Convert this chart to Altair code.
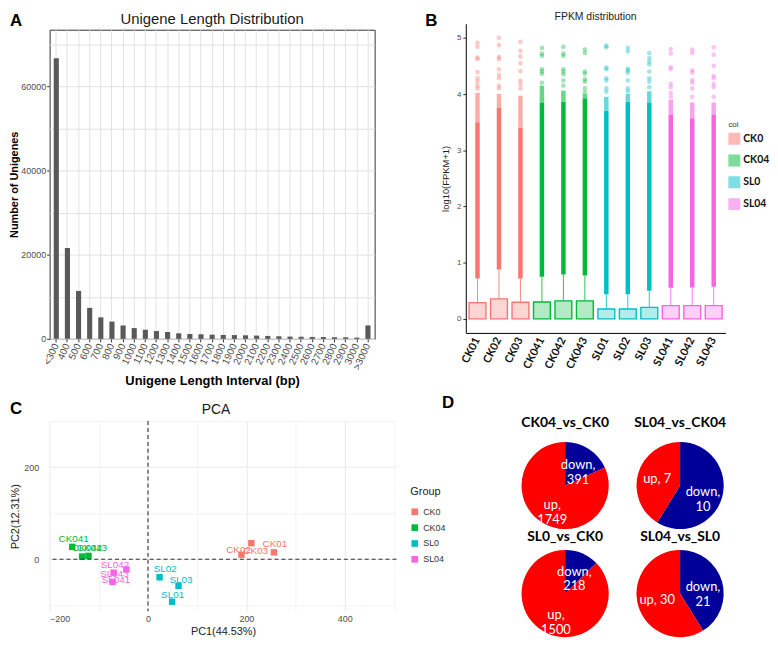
import altair as alt
import pandas as pd

FONT = "Liberation Sans"
CAL = "Lato"

panel_letters = ["A", "B", "C", "D"]
panel_titles = ["Unigene Length Distribution", "FPKM distribution", "PCA"]

# ---------------- Panel A: unigene length distribution ----------------
len_bins = ["<300", "400", "500", "600", "700", "800", "900", "1000", "1100", "1200",
            "1300", "1400", "1500", "1600", "1700", "1800", "1900", "2000", "2100", "2200",
            "2300", "2400", "2500", "2600", "2700", "2800", "2900", "3000", ">3000"]
len_counts = [66700, 21600, 11400, 7370, 5120, 4110, 3180, 2560, 2170, 1860,
              1630, 1320, 1160, 1090, 1000, 930, 900, 850, 780, 700,
              620, 540, 520, 460, 440, 390, 370, 300, 3200]
a_ticks = [0, 10000, 20000, 30000, 40000, 50000, 60000, 70000]

# ---------------- Panel B: FPKM distribution ----------------
samples = ["CK01", "CK02", "CK03", "CK041", "CK042", "CK043",
           "SL01", "SL02", "SL03", "SL041", "SL042", "SL043"]
sample_group = ["CK0", "CK0", "CK0", "CK04", "CK04", "CK04",
                "SL0", "SL0", "SL0", "SL04", "SL04", "SL04"]
box_low = [0, 0, 0, 0, 0, 0, 0, 0, 0, 0, 0, 0]
box_q3 = [0.29, 0.355, 0.295, 0.30, 0.32, 0.32, 0.175, 0.175, 0.205, 0.235, 0.235, 0.235]
whisker_top = [0.72, 0.88, 0.72, 0.75, 0.79, 0.77, 0.44, 0.44, 0.50, 0.555, 0.56, 0.57]
dense_top = [3.50, 3.75, 3.40, 3.85, 3.86, 3.92, 3.70, 3.86, 3.85, 3.63, 3.57, 3.63]
scatter_top = [4.02, 4.00, 3.97, 4.15, 4.06, 4.00, 3.95, 4.00, 4.05, 3.90, 3.85, 3.85]
outliers = {
    "CK01": [4.91, 4.84, 4.65, 4.62, 4.39, 4.28, 4.22, 4.15, 4.10],
    "CK02": [5.00, 4.87, 4.66, 4.62, 4.44, 4.34, 4.28, 4.15, 4.10],
    "CK03": [4.93, 4.77, 4.67, 4.55, 4.41, 4.24, 4.18, 4.10],
    "CK041": [4.82, 4.72, 4.68, 4.44, 4.40, 4.36, 4.20],
    "CK042": [4.84, 4.72, 4.68, 4.44, 4.40, 4.35, 4.24, 4.15],
    "CK043": [4.79, 4.73, 4.40, 4.36, 4.26, 4.22, 4.10, 4.03],
    "SL01": [4.86, 4.83, 4.47, 4.44, 4.28, 4.24, 4.10, 4.04],
    "SL02": [4.82, 4.76, 4.45, 4.42, 4.38, 4.24, 4.10, 4.05],
    "SL03": [4.73, 4.64, 4.58, 4.53, 4.40, 4.28, 4.22, 4.12],
    "SL041": [4.80, 4.72, 4.48, 4.44, 4.18, 4.12, 4.02, 3.95],
    "SL042": [4.79, 4.73, 4.42, 4.38, 4.25, 4.20, 4.10, 3.95],
    "SL043": [4.83, 4.70, 4.50, 4.32, 4.28, 4.18, 4.12, 3.95],
}
b_ticks = [0, 1, 2, 3, 4, 5]

group_names = ["CK0", "CK04", "SL0", "SL04"]
group_colors = ["#F8766D", "#00BA38", "#00BFC4", "#F564E3"]

# ---------------- Panel C: PCA ----------------
pca_samples = ["CK01", "CK02", "CK03", "CK041", "CK042", "CK043",
               "SL01", "SL02", "SL03", "SL041", "SL042", "SL043"]
pca_group = ["CK0", "CK0", "CK0", "CK04", "CK04", "CK04",
             "SL0", "SL0", "SL0", "SL04", "SL04", "SL04"]
pc1 = [256, 190, 210, -154, -134, -121, 49, 23.5, 62, -72, -44, -70]
pc2 = [15, 10, 35, 27, 6, 7.5, -92, -39, -57.5, -49, -22, -29]
label_x = [258, 184, 219, -151, -124, -114, 50, 35, 67, -65, -67, -68]
label_y = [33, 20, 18, 45, 24, 24, -78, -22, -45, -45, -12, -33]
c_xticks = [-200, -100, 0, 100, 200, 300, 400, 500]
c_yticks = [-100, 0, 100, 200, 300]
zero_lines = [0]

# ---------------- Panel D: DEG pies ----------------
comps = ["CK04_vs_CK0", "SL04_vs_CK04", "SL0_vs_CK0", "SL04_vs_SL0"]
comp_col = [0, 1, 0, 1]
comp_row = [0, 0, 1, 1]
down_counts = [391, 10, 218, 21]
up_counts = [1749, 7, 1500, 30]
down_sep = ["\n", "\n", "\n", "\n"]
up_sep = ["\n", " ", "\n", " "]

# =====================================================================
GRID = "#E2E2E2"


def annot(text, size, weight, x, y, align="left", baseline="top", font=FONT, color="black"):
    return alt.Chart(pd.DataFrame({"t": [text]})).mark_text(
        font=font, fontSize=size, fontWeight=weight, align=align, baseline=baseline, color=color
    ).encode(x=alt.value(x), y=alt.value(y), text="t:N")


# ---- A ----
dfA = pd.DataFrame({"bin": len_bins, "count": len_counts})
barsA = alt.Chart(dfA).mark_bar(color="#595959").encode(
    x=alt.X("bin:N", sort=len_bins,
            scale=alt.Scale(paddingInner=0.54, paddingOuter=0.37),
            axis=alt.Axis(title="Unigene Length Interval (bp)", labelAngle=-65, bandPosition=0.5,
                          grid=True, gridColor=GRID, domain=False, tickColor="#333333", tickSize=3,
                          labelFontSize=10, labelColor="#4D4D4D", labelPadding=2,
                          titleFontSize=13, titleFontWeight="bold", titleColor="#000000", titlePadding=3)),
    y=alt.Y("count:Q", scale=alt.Scale(domain=[0, 73500], nice=False),
            axis=alt.Axis(title="Number of Unigenes", values=a_ticks, format="d",
                          labelExpr="datum.value % 20000 == 0 ? datum.label : ''",
                          grid=True, gridColor=GRID, domain=False, tickSize=3,
                          tickColor={"condition": {"test": "datum.value % 20000 != 0", "value": "transparent"},
                                     "value": "#333333"},
                          labelFontSize=9, labelColor="#4D4D4D", labelPadding=1,
                          titleFontSize=11, titleFontWeight="bold", titleColor="#000000", titlePadding=1)),
)
A = alt.layer(
    barsA,
    annot(panel_letters[0], 17, "bold", -40, -17),
    annot(panel_titles[0], 15, "normal", 164, -11, align="center", baseline="middle", color="#1A1A1A"),
).properties(width=328, height=312, view=alt.ViewBackground(stroke="#333333", strokeWidth=1))

# ---- B ----
dfB = pd.DataFrame({"sample": samples, "group": sample_group, "low": box_low, "q3": box_q3,
                    "wt": whisker_top, "d1": dense_top, "d2": scatter_top})
rowsO = [(s, g, v) for s, g in zip(samples, sample_group) for v in outliers[s]]
dfO = pd.DataFrame(rowsO, columns=["sample", "group", "val"])
colScale = alt.Scale(domain=group_names, range=group_colors)
xB = alt.X("sample:N", sort=samples, scale=alt.Scale(paddingInner=0, paddingOuter=0.045),
           axis=alt.Axis(title=None, labelAngle=-63, labelFont=CAL, labelFontWeight="bold",
                         labelFontSize=11, labelColor="#111111", ticks=False, domainColor="#000000",
                         labelPadding=5))
yBs = alt.Scale(domain=[-0.25, 5.25], range=[306, -6], nice=False, zero=False)
yBaxis = alt.Axis(title="log10(FPKM+1)", values=b_ticks, grid=False, domainColor="#000000",
                  tickColor="#333333", tickSize=3, labelFontSize=8, labelColor="#4D4D4D",
                  titleFontSize=9.5, titleFontWeight="normal", titleColor="#222222", titlePadding=6)
legB = alt.Legend(title="col", orient="none", legendX=265, legendY=92, symbolType="square",
                  symbolSize=110, symbolStrokeWidth=1.5, symbolOpacity=0.5, labelFont=CAL,
                  labelFontWeight="bold", labelFontSize=10.5, labelColor="#111111", labelOffset=3,
                  titleFontSize=8, titleFontWeight="normal", titleColor="#333333",
                  rowPadding=4, titlePadding=4)
box = alt.Chart(dfB).mark_bar(size=17, fillOpacity=0.3, strokeWidth=1.4).encode(
    x=xB, y=alt.Y("low:Q", scale=yBs, axis=yBaxis), y2="q3:Q",
    fill=alt.Fill("group:N", scale=colScale, legend=legB),
    stroke=alt.Stroke("group:N", scale=colScale, legend=legB),
)
whisk = alt.Chart(dfB).mark_rule(strokeWidth=1, opacity=0.85).encode(
    x=xB, y=alt.Y("q3:Q", scale=yBs, axis=yBaxis), y2="wt:Q",
    color=alt.Color("group:N", scale=colScale, legend=None))
dense = alt.Chart(dfB).mark_rule(strokeWidth=4.5).encode(
    x=xB, y=alt.Y("wt:Q", scale=yBs, axis=yBaxis), y2="d1:Q",
    color=alt.Color("group:N", scale=colScale, legend=None))
semi = alt.Chart(dfB).mark_rule(strokeWidth=4.5, opacity=0.6).encode(
    x=xB, y=alt.Y("d1:Q", scale=yBs, axis=yBaxis), y2="d2:Q",
    color=alt.Color("group:N", scale=colScale, legend=None))
outl = alt.Chart(dfO).mark_circle(size=22, opacity=0.38).encode(
    x=xB, y=alt.Y("val:Q", scale=yBs, axis=yBaxis),
    color=alt.Color("group:N", scale=colScale, legend=None))
B = alt.layer(
    box, whisk, dense, semi, outl,
    annot(panel_letters[1], 17, "bold", -41, -17),
    annot(panel_titles[1], 10.5, "normal", 131, -13, align="center", baseline="middle", color="#222222"),
).properties(width=262, height=306)

# ---- C ----
dfP = pd.DataFrame({"sample": pca_samples, "group": pca_group, "pc1": pc1, "pc2": pc2,
                    "lx": label_x, "ly": label_y})
xCs = alt.Scale(domain=[-200, 505], nice=False, zero=False)
yCs = alt.Scale(domain=[-113, 300], nice=False, zero=False)
gridW = {"condition": {"test": "datum.value % 200 != 0", "value": 0.6}, "value": 1.1}
xCaxis = alt.Axis(title="PC1(44.53%)", values=c_xticks,
                  labelExpr="datum.value % 200 == 0 ? datum.label : ''",
                  grid=True, gridColor="#EBEBEB", gridWidth=gridW, domain=False, ticks=False,
                  labelFontSize=9, labelColor="#4D4D4D", labelPadding=3,
                  titleFontSize=11, titleFontWeight="normal", titleColor="#222222", titlePadding=2)
yCaxis = alt.Axis(title="PC2(12.31%)", values=c_yticks,
                  labelExpr="datum.value % 200 == 0 ? datum.label : ''",
                  grid=True, gridColor="#EBEBEB", gridWidth=gridW, domain=False, ticks=False,
                  labelFontSize=9, labelColor="#4D4D4D", labelPadding=11,
                  titleFontSize=11, titleFontWeight="normal", titleColor="#222222", titlePadding=3)
legC = alt.Legend(title="Group", orient="none", legendX=364, legendY=66, symbolType="square",
                  symbolSize=45, labelFontSize=9, labelColor="#333333", titleFontSize=11,
                  titleFontWeight="normal", titleColor="#222222", rowPadding=6, titlePadding=10)
ptsC = alt.Chart(dfP).mark_square(size=42, opacity=1).encode(
    x=alt.X("pc1:Q", scale=xCs, axis=xCaxis),
    y=alt.Y("pc2:Q", scale=yCs, axis=yCaxis),
    color=alt.Color("group:N", scale=colScale, legend=legC))
labC = alt.Chart(dfP).mark_text(font=FONT, fontSize=10, baseline="middle").encode(
    x=alt.X("lx:Q", scale=xCs, axis=xCaxis), y=alt.Y("ly:Q", scale=yCs, axis=yCaxis),
    text="sample:N", color=alt.Color("group:N", scale=colScale, legend=legC))
dfZ = pd.DataFrame({"v": zero_lines})
vline = alt.Chart(dfZ).mark_rule(strokeDash=[4, 3], color="#333333", strokeWidth=1.1).encode(
    x=alt.X("v:Q", scale=xCs, axis=xCaxis))
hline = alt.Chart(dfZ).mark_rule(strokeDash=[4, 3], color="#333333", strokeWidth=1.1).encode(
    y=alt.Y("v:Q", scale=yCs, axis=yCaxis))
C = alt.layer(
    ptsC, vline, hline, labC,
    annot(panel_letters[2], 17, "bold", -40, -20),
    annot(panel_titles[2], 14, "normal", 168, -11, align="center", baseline="middle", color="#1A1A1A"),
).properties(width=350, height=192)

# ---- D ----
recs = []
for c, cc, rr, dn, up, ds, us in zip(comps, comp_col, comp_row, down_counts, up_counts, down_sep, up_sep):
    recs.append({"comp": c, "col": cc, "row": rr, "dir": "down", "n": dn, "ord": 0,
                 "label": f"down,{ds}{dn}"})
    recs.append({"comp": c, "col": cc, "row": rr, "dir": "up", "n": up, "ord": 1,
                 "label": f"up,{us}{up}"})
dfD = pd.DataFrame(recs)
xDs = alt.Scale(domain=[-0.39, 1.42], nice=False, zero=False)
yDs = alt.Scale(domain=[-0.596, 1.165], nice=False, zero=False, reverse=True)
baseD = alt.Chart(dfD).transform_joinaggregate(
    total="sum(n)", groupby=["comp"]
).transform_calculate(
    frac="datum.n / datum.total"
).transform_window(
    end="sum(frac)", sort=[alt.SortField("ord")], groupby=["comp"], frame=[None, 0]
).transform_calculate(
    start="datum.end - datum.frac", mid="datum.end - datum.frac / 2"
)
pieColors = alt.Scale(domain=["down", "up"], range=["#000099", "#FF0000"])
arcs = baseD.mark_arc(radius=44).encode(
    theta=alt.Theta("start:Q", stack=False, scale=alt.Scale(domain=[0, 1])),
    theta2="end:Q",
    x=alt.X("col:Q", scale=xDs, axis=None),
    y=alt.Y("row:Q", scale=yDs, axis=None),
    color=alt.Color("dir:N", scale=pieColors, legend=None))
labD = baseD.mark_text(radius=24, lineBreak="\n", font=CAL, fontSize=13, color="white",
                       baseline="middle", align="center").encode(
    theta=alt.Theta("mid:Q", stack=False, scale=alt.Scale(domain=[0, 1])),
    x=alt.X("col:Q", scale=xDs, axis=None),
    y=alt.Y("row:Q", scale=yDs, axis=None),
    text="label:N")
dfT = pd.DataFrame({"comp": comps, "col": comp_col, "row": comp_row})
t0 = alt.Chart(dfT).transform_filter("datum.row == 0").mark_text(
    font=CAL, fontSize=14, fontWeight="bold", color="black", dy=-63).encode(
    x=alt.X("col:Q", scale=xDs, axis=None), y=alt.Y("row:Q", scale=yDs, axis=None), text="comp:N")
t1 = alt.Chart(dfT).transform_filter("datum.row == 1").mark_text(
    font=CAL, fontSize=14, fontWeight="bold", color="black", dy=-57).encode(
    x=alt.X("col:Q", scale=xDs, axis=None), y=alt.Y("row:Q", scale=yDs, axis=None), text="comp:N")
D = alt.layer(arcs, labD, t0, t1, annot(panel_letters[3], 17, "bold", -79, -26)).properties(
    width=210, height=192)

row1 = alt.hconcat(A, B, spacing=50).resolve_scale(
    color="independent", fill="independent", stroke="independent")
row2 = alt.hconcat(C, D, spacing=-4).resolve_scale(
    color="independent", fill="independent", stroke="independent")
chart = alt.vconcat(row1, row2, spacing=6, padding=0).resolve_scale(
    color="independent", fill="independent", stroke="independent"
).configure_view(stroke=None).configure_axis(
    labelFont=FONT, titleFont=FONT
).configure_legend(labelFont=FONT, titleFont=FONT)

chart.save("out.html", embed_options={"renderer": "svg", "actions": False})
